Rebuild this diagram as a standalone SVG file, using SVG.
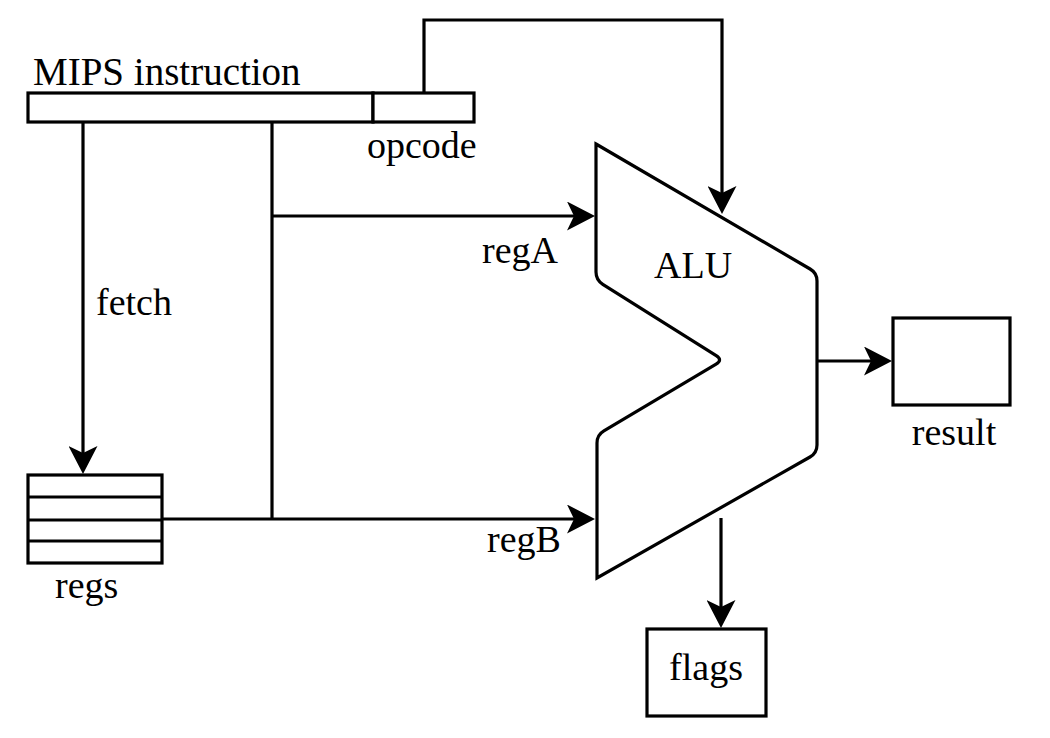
<svg xmlns="http://www.w3.org/2000/svg" width="1050" height="738" viewBox="0 0 1050 738">
<style>
.s{fill:#fff;stroke:#000;stroke-width:3.2}
.c{fill:none;stroke:#000;stroke-width:3.2}
text{font-family:'Liberation Serif','Times New Roman','DejaVu Serif',Times,serif;font-size:38px;fill:#000}
</style>
<defs>
<marker id="ar" viewBox="0 0 28 29" refX="7" refY="14.5" markerWidth="28" markerHeight="29" markerUnits="userSpaceOnUse" orient="auto">
<path d="M0,0 L28,14.5 L0,29 L7,14.5 Z" fill="#000"/>
</marker>
</defs>
<rect width="1050" height="738" fill="#fff"/>
<g id="connectors">
<path class="c" d="M83,122 V453" marker-end="url(#ar)"/>
<path class="c" d="M272,122 V520"/>
<path class="c" d="M272,216 H574" marker-end="url(#ar)"/>
<path class="c" d="M162,519 H574" marker-end="url(#ar)"/>
<path class="c" d="M424,93 V20 H722 V193" marker-end="url(#ar)"/>
<path class="c" d="M817,361 H871" marker-end="url(#ar)"/>
<path class="c" d="M721,518 V607" marker-end="url(#ar)"/>
</g>
<g id="instruction">
<rect class="s" x="28" y="93" width="345" height="29"/>
<text x="33" y="85" font-family="Liberation Serif, serif" style="font-size:39px">MIPS instruction</text>
</g>
<g id="opcode">
<rect class="s" x="373" y="93" width="101" height="29"/>
<text x="367" y="158" font-family="Liberation Serif, serif">opcode</text>
</g>
<g id="fetch-label">
<text x="96" y="315" font-family="Liberation Serif, serif">fetch</text>
</g>
<g id="regs">
<rect class="s" x="28" y="475" width="134" height="88"/>
<path class="c" d="M28,497 H162 M28,520 H162 M28,541 H162"/>
<text x="55" y="598" font-family="Liberation Serif, serif">regs</text>
</g>
<g id="labels">
<text x="482" y="263" font-family="Liberation Serif, serif">regA</text>
<text x="487" y="552" font-family="Liberation Serif, serif">regB</text>
</g>
<g id="alu">
<path class="s" stroke-linejoin="miter" d="M596,144 L810.1,269 Q817,273 817,281 L817,445 Q817,453 810,457 L597,578 L597,443 Q597,435 603.9,430.9 L716.1,364.1 Q723,360 716.2,355.7 L602.8,284.3 Q596,280 596,272 Z"/>
<text x="654" y="278" font-family="Liberation Serif, serif">ALU</text>
</g>
<g id="result">
<rect class="s" x="893" y="318" width="117" height="87"/>
<text x="954" y="445" text-anchor="middle" font-family="Liberation Serif, serif">result</text>
</g>
<g id="flags">
<rect class="s" x="647" y="629" width="119" height="87"/>
<text x="706" y="680" text-anchor="middle" font-family="Liberation Serif, serif">flags</text>
</g>
</svg>
